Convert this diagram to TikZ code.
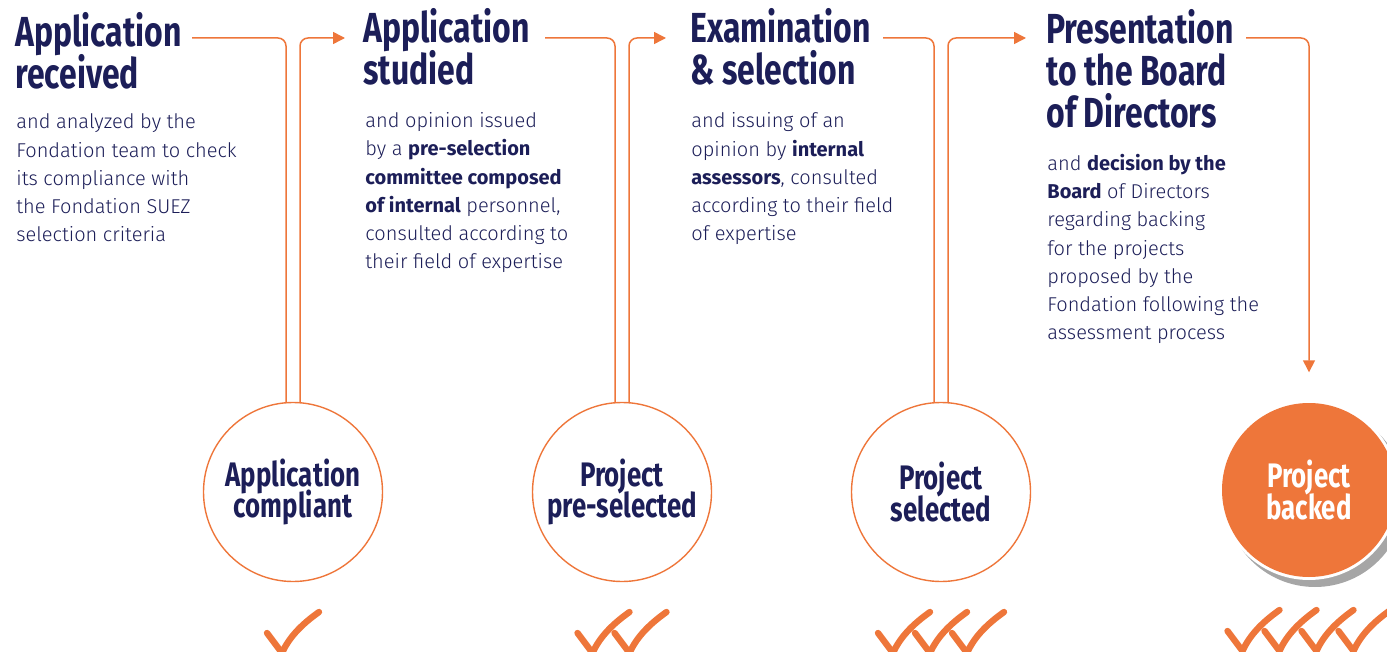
\documentclass[tikz,border=0pt]{standalone}
\usepackage{fontspec}
\setmainfont{Fira Sans Light}[BoldFont={Fira Sans Bold}]
\newfontfamily\headfont[FakeStretch=0.76]{Fira Sans}
\usetikzlibrary{arrows.meta,calc}

\definecolor{navy}{HTML}{1C1E58}
\definecolor{suez}{HTML}{EE763A}
\newcommand\tightlines{\lineskiplimit=-20pt\relax}

\tikzset{
  title/.style={anchor=base west, align=left, inner sep=0pt, text=navy,
    font=\headfont\bfseries\fontsize{21}{21}\selectfont\tightlines},
  body/.style={anchor=base west, align=left, inner sep=0pt, text=navy,
    font=\fontsize{10}{14.15}\selectfont\tightlines},
  stage/.style={circle, draw=suez, line width=0.7pt, minimum size=89.5pt,
    inner sep=0pt, align=center, text=navy,
    font=\headfont\bfseries\fontsize{17}{15.8}\selectfont\tightlines},
  link/.style={draw=suez, line width=0.75pt, rounded corners=4pt},
  tip/.style={-{Triangle[length=6pt,width=6pt]}},
  tick/.style={draw=suez, line width=3.2pt, line cap=round, line join=round}
}

\begin{document}
\begin{tikzpicture}[x=0.5pt, y=-0.5pt]
 \useasboundingbox (0,0) rectangle (1387,652);

 % titles, anchored at the baseline of their last line
 \draw (15,89) node[title] (t1) {Application\\received};
 \draw (363,85) node[title] (t2) {Application\\studied};
 \draw (690,85) node[title] (t3) {Examination\\\& selection};
 \draw (1046,128) node[title] (t4) {Presentation\\to the Board\\of Directors};

 \draw (16,242) node[body] (b1) {and analyzed by the\\Fondation team to check\\its compliance with\\the Fondation SUEZ\\selection criteria};
 \draw (365,269) node[body] (b2) {and opinion issued\\by a \textbf{pre-selection}\\\textbf{committee composed}\\\textbf{of internal} personnel,\\consulted according to\\their field of expertise};
 \draw (691,241) node[body] (b3) {and issuing of an\\opinion by \textbf{internal}\\\textbf{assessors}, consulted\\according to their field\\of expertise};
 \draw (1047,340) node[body] (b4) {and \textbf{decision by the}\\\textbf{Board} of Directors\\regarding backing\\for the projects\\proposed by the\\Fondation following the\\assessment process};

 \draw (293,492) node[stage] (c1) {Application\\compliant};
 \draw (622,492) node[stage] (c2) {Project\\pre-selected};
 \draw (941,492) node[stage] (c3) {Project\\selected};
 \fill[black!35] (1315,497) circle (90);
 \fill[white] (1309,490) circle (90);
 \draw (1309,490) node[stage, draw=none, fill=suez, text=white, minimum size=87pt] (c4) {Project\\backed};

 \coordinate (s1) at (192,38);
 \coordinate (s2) at (545,38);
 \coordinate (s3) at (883,38);
 \coordinate (s4) at (1246,38);

 \draw[link] (s1) -| ($(c1.north)+(-7,0)$);
 \draw[link,tip,shorten >=9pt] ($(c1.north)+(7,0)$) |- (t2.west |- s1);
 \draw[link] (s2) -| ($(c2.north)+(-7,0)$);
 \draw[link,tip,shorten >=12pt] ($(c2.north)+(7,0)$) |- (t3.west |- s2);
 \draw[link] (s3) -| ($(c3.north)+(-7,0)$);
 \draw[link,tip,shorten >=10pt] ($(c3.north)+(7,0)$) |- (t4.west |- s3);
 \draw[link,tip,shorten >=15pt] (s4) -| (c4.north);

 \foreach \c/\n in {c1/1, c2/2, c3/3, c4/4}
  \foreach \i in {1,...,\n} {
   \coordinate (k) at ($(\c.center)+({-(52+37*(\n-1))/2+37*(\i-1)},141)$);
   \draw[tick] (k) -- ++(15,20) .. controls +(8,-18) and +(-14,10) .. ++(37,-41);
  }
\end{tikzpicture}
\end{document}
